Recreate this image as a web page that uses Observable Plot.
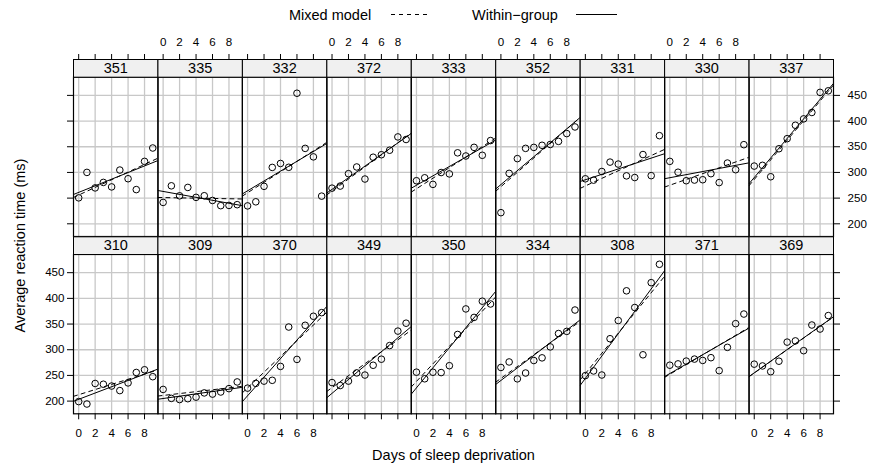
<!DOCTYPE html>
<html>
<head>
<meta charset="utf-8">
<script src="https://cdn.jsdelivr.net/npm/d3@7"></script>
<script src="https://cdn.jsdelivr.net/npm/@observablehq/plot@0.6"></script>
<style>
  body { margin: 0; background: #fff; font-family: "Liberation Sans", Arial, sans-serif; }
  #legend { position: relative; width: 877px; height: 28px; font-size: 14.5px; line-height: 17px; color: #000; }
  #legend .lab { position: absolute; top: 7px; white-space: nowrap; }
  #legend .key { position: absolute; top: 13.5px; height: 1px; }
  #legend .dashed { background: repeating-linear-gradient(to right, #000 0 4px, transparent 4px 8px); }
  #legend .solid { background: #000; }
</style>
</head>
<body>
<div id="legend">
  <span class="lab" style="left:289px">Mixed model</span>
  <span class="key dashed" style="left:391px;width:40px"></span>
  <span class="lab" style="left:472px">Within−group</span>
  <span class="key solid" style="left:576px;width:41px"></span>
</div>
<div id="chart"></div>
<script>
// Days of sleep deprivation and reaction times (ms) per subject
const days = [0, 1, 2, 3, 4, 5, 6, 7, 8, 9];
const subjects = ["308", "309", "310", "330", "331", "332", "333", "334", "335",
                  "337", "349", "350", "351", "352", "369", "370", "371", "372"];

const r308 = [249.56, 258.70, 250.80, 321.44, 356.85, 414.69, 382.20, 290.15, 430.59, 466.35];
const r309 = [222.73, 205.27, 202.98, 204.71, 207.72, 215.96, 213.63, 217.73, 224.30, 237.31];
const r310 = [199.05, 194.33, 234.32, 232.84, 229.31, 220.46, 235.42, 255.75, 261.01, 247.52];
const r330 = [321.54, 300.40, 283.86, 285.13, 285.80, 297.59, 280.24, 318.26, 305.35, 354.05];
const r331 = [287.61, 285.00, 301.82, 320.12, 316.28, 293.32, 290.08, 334.82, 293.75, 371.58];
const r332 = [234.86, 242.81, 272.96, 309.77, 317.46, 310.00, 454.16, 346.83, 330.30, 253.86];
const r333 = [283.84, 289.56, 276.77, 299.81, 297.17, 338.17, 332.03, 348.84, 333.36, 362.04];
const r334 = [265.47, 276.20, 243.36, 254.67, 279.02, 284.19, 305.52, 331.52, 335.75, 377.30];
const r335 = [241.61, 273.95, 254.49, 270.80, 251.45, 254.64, 245.45, 235.31, 235.75, 237.25];
const r337 = [312.37, 313.81, 291.61, 346.12, 365.73, 391.84, 404.26, 416.69, 455.86, 458.92];
const r349 = [236.10, 230.32, 238.93, 254.92, 250.71, 269.77, 281.56, 308.10, 336.28, 351.65];
const r350 = [256.30, 243.45, 256.20, 255.53, 268.92, 329.72, 379.44, 362.92, 394.49, 389.05];
const r351 = [250.53, 300.06, 269.89, 280.59, 271.83, 304.63, 287.75, 266.60, 321.54, 347.57];
const r352 = [221.68, 298.19, 326.88, 346.86, 348.74, 352.83, 354.43, 360.43, 375.64, 388.54];
const r369 = [271.92, 268.44, 257.24, 277.66, 314.82, 317.21, 298.14, 348.12, 340.28, 366.51];
const r370 = [225.26, 234.52, 238.90, 240.47, 267.54, 344.19, 281.15, 347.59, 365.16, 372.23];
const r371 = [269.88, 272.44, 277.90, 281.79, 279.17, 284.51, 259.27, 304.63, 350.78, 369.47];
const r372 = [269.41, 273.47, 297.60, 310.63, 287.17, 329.61, 334.48, 343.22, 369.14, 364.12];

const reactionBySubject = [r308, r309, r310, r330, r331, r332, r333, r334, r335,
                           r337, r349, r350, r351, r352, r369, r370, r371, r372];

// Mixed-model (random intercept and slope) predictions per subject
const mixedIntercept = [253.66, 211.01, 212.44, 275.10, 273.67, 260.44, 268.25, 244.17, 251.07,
                        286.30, 226.19, 238.34, 255.98, 272.27, 254.68, 225.79, 252.21, 263.72];
const mixedSlope = [19.666, 1.848, 5.018, 5.653, 7.397, 10.195, 10.244, 11.541, -0.285,
                    19.096, 11.641, 17.082, 7.452, 14.004, 11.340, 15.290, 9.479, 11.751];

// Panel arrangement: upper row, then lower row
const upperRow = ["351", "335", "332", "372", "333", "352", "331", "330", "337"];
const lowerRow = ["310", "309", "370", "349", "350", "334", "308", "371", "369"];

const dayTicks = [0, 2, 4, 6, 8];
const reactionTicks = [200, 250, 300, 350, 400, 450];

// ---- layout ----
const width = 877, height = 445;
const marginTop = 48.7, marginBottom = 59.7, marginLeft = 73, marginRight = 44;
const rowGap = 18, stripH = 17.7;
const panelH = (height - marginTop - marginBottom - rowGap) / 2;
const nCols = upperRow.length;

const panelOf = new Map();
[upperRow, lowerRow].forEach((row, r) => row.forEach((s, c) => panelOf.set(s, {row: r, col: c})));

const points = subjects.flatMap((s, i) =>
  days.map((d, j) => ({subject: s, day: d, reaction: reactionBySubject[i][j], ...panelOf.get(s)})));

// lattice-style limits: data range extended by 7% on each side
const [dLo, dHi] = d3.extent(days);
const [rLo, rHi] = d3.extent(points, p => p.reaction);
const xDomain = [dLo - 0.07 * (dHi - dLo), dHi + 0.07 * (dHi - dLo)];
const yDomain = [rLo - 0.07 * (rHi - rLo), rHi + 0.07 * (rHi - rLo)];

// ordinary least-squares fit for each subject on its own
function lsFit(xs, ys) {
  const mx = d3.mean(xs), my = d3.mean(ys);
  const b = d3.sum(xs, (x, i) => (x - mx) * (ys[i] - my)) / d3.sum(xs, x => (x - mx) ** 2);
  return [my - b * mx, b];
}

const withinLines = [], mixedLines = [];
subjects.forEach((s, i) => {
  const [a, b] = lsFit(days, reactionBySubject[i]);
  const p = panelOf.get(s);
  for (const x of xDomain) {
    withinLines.push({subject: s, day: x, reaction: a + b * x, ...p});
    mixedLines.push({subject: s, day: x, reaction: mixedIntercept[i] + mixedSlope[i] * x, ...p});
  }
});

const panels = subjects.map(s => ({subject: s, ...panelOf.get(s)}));

// tick sets attached to chosen panels
function tickSet(cols, row, values) {
  const v = [], fx = [], fy = [];
  for (const c of cols) for (const t of values) { v.push(t); fx.push(c); fy.push(row); }
  return {v, fx, fy};
}
const allCols = d3.range(nCols);
const bottomLab = tickSet(allCols.filter(c => c % 2 === 0), 1, dayTicks);
const bottomNo = tickSet(allCols.filter(c => c % 2 === 1), 1, dayTicks);
const topLab = tickSet(allCols.filter(c => c % 2 === 1), 0, dayTicks);
const topNo = tickSet(allCols.filter(c => c % 2 === 0), 0, dayTicks);
const leftLab = tickSet([0], 1, reactionTicks);
const leftNo = tickSet([0], 0, reactionTicks);
const rightLab = tickSet([nCols - 1], 0, reactionTicks);
const rightNo = tickSet([nCols - 1], 1, reactionTicks);

const blank = () => "";
const axisCommon = {label: null, facetAnchor: null, tickSize: 6, fontSize: 11.6};

const chart = Plot.plot({
  width, height, marginTop, marginBottom, marginLeft, marginRight,
  style: {fontFamily: "'Liberation Sans', Arial, sans-serif", fontSize: "11.6px", background: "white", color: "black", overflow: "visible"},
  fx: {domain: allCols, paddingInner: 0, paddingOuter: 0, round: false, axis: null},
  fy: {domain: [0, 1], paddingInner: rowGap / (panelH + rowGap), paddingOuter: 0, round: false, axis: null},
  x: {domain: xDomain},
  y: {domain: yDomain},
  marks: [
    Plot.gridX(dayTicks, {stroke: "#c8c8c8", strokeOpacity: 1, strokeWidth: 1.3}),
    Plot.gridY(reactionTicks, {stroke: "#c8c8c8", strokeOpacity: 1, strokeWidth: 1.3}),
    Plot.dot(points, {x: "day", y: "reaction", fx: "col", fy: "row", r: 3.3, stroke: "black", strokeWidth: 1, fill: "none"}),
    Plot.line(withinLines, {x: "day", y: "reaction", fx: "col", fy: "row", z: "subject", stroke: "black", strokeWidth: 1, clip: true}),
    Plot.line(mixedLines, {x: "day", y: "reaction", fx: "col", fy: "row", z: "subject", stroke: "black", strokeWidth: 1, strokeDasharray: "4,4", clip: true}),
    Plot.frame({stroke: "black", strokeWidth: 1.2}),
    Plot.frame({fill: "#f0f0f0", stroke: "black", strokeWidth: 1, insetTop: -stripH, insetBottom: panelH}),
    Plot.text(panels, {fx: "col", fy: "row", text: "subject", frameAnchor: "top", lineAnchor: "middle", dy: -stripH / 2, fontSize: 14.5}),
    Plot.axisX(bottomLab.v, {fx: bottomLab.fx, fy: bottomLab.fy, anchor: "bottom", tickPadding: 9, ...axisCommon}),
    Plot.axisX(bottomNo.v, {fx: bottomNo.fx, fy: bottomNo.fy, anchor: "bottom", tickFormat: blank, ...axisCommon}),
    Plot.axisX(topLab.v, {fx: topLab.fx, fy: topLab.fy, anchor: "top", tickPadding: 8, dy: -stripH, ...axisCommon}),
    Plot.axisX(topNo.v, {fx: topNo.fx, fy: topNo.fy, anchor: "top", tickFormat: blank, dy: -stripH, ...axisCommon}),
    Plot.axisY(leftLab.v, {fx: leftLab.fx, fy: leftLab.fy, anchor: "left", tickPadding: 3, ...axisCommon}),
    Plot.axisY(leftNo.v, {fx: leftNo.fx, fy: leftNo.fy, anchor: "left", tickFormat: blank, ...axisCommon}),
    Plot.axisY(rightLab.v, {fx: rightLab.fx, fy: rightLab.fy, anchor: "right", tickPadding: 8, ...axisCommon}),
    Plot.axisY(rightNo.v, {fx: rightNo.fx, fy: rightNo.fy, anchor: "right", tickFormat: blank, ...axisCommon}),
    Plot.text(["Days of sleep deprivation"], {fx: [Math.floor(nCols / 2)], fy: [1], text: d => d, frameAnchor: "bottom", lineAnchor: "middle", textAnchor: "middle", dy: 41.7, fontSize: 14.5}),
    Plot.text(["Average reaction time (ms)"], {fx: [0], fy: [0], text: d => d, frameAnchor: "bottom-left", lineAnchor: "middle", textAnchor: "middle", dx: -53, dy: rowGap / 2, rotate: -90, fontSize: 14.5})
  ]
});
document.getElementById("chart").appendChild(chart);
</script>
</body>
</html>
